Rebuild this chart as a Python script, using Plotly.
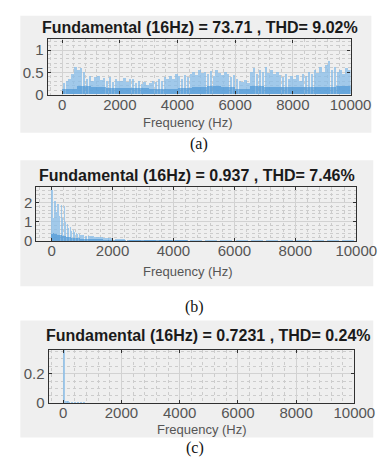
import numpy as np
import plotly.graph_objects as go

# ---------------- data ----------------
titles = ["Fundamental (16Hz) = 73.71 , THD= 9.02%",
          "Fundamental (16Hz) = 0.937 , THD= 7.46%",
          "Fundamental (16Hz) = 0.7231 , THD= 0.24%"]
captions = ["(a)", "(b)", "(c)"]
x_ticks = [0, 2000, 4000, 6000, 8000, 10000]
y_ticks_a = [0, 0.5, 1]
y_ticks_b = [0, 1, 2]
y_ticks_c = [0, 0.2]

# (a) spiky envelope, 100 Hz bins
bin_a = 100
mag_a = [0.25, 0.30, 0.35, 0.45,
         0.60, 0.55, 0.58, 0.50,
         0.35, 0.40, 0.30, 0.38,
         0.40, 0.32, 0.36, 0.30, 0.38, 0.28, 0.35, 0.30,
         0.30, 0.36, 0.28, 0.35, 0.33, 0.25, 0.30, 0.22, 0.28, 0.20,
         0.25, 0.30, 0.28, 0.35, 0.30, 0.38, 0.33, 0.40, 0.35, 0.45,
         0.40, 0.35, 0.42, 0.38, 0.45, 0.50, 0.42, 0.55, 0.48, 0.50,
         0.45, 0.52, 0.40, 0.55, 0.48, 0.42, 0.50, 0.45, 0.38, 0.42,
         0.35, 0.30, 0.28, 0.32, 0.25, 0.50, 0.58, 0.45, 0.55, 0.50,
         0.60, 0.48, 0.55, 0.45, 0.50, 0.42, 0.38, 0.45, 0.35, 0.40,
         0.35, 0.42, 0.30, 0.45, 0.40, 0.50, 0.45, 0.55, 0.48, 0.60,
         0.50, 0.65, 0.75, 0.55, 0.60, 0.50, 0.55, 0.45, 0.58, 0.55]
# (a) dense floor, 500 Hz bins
bin_a_floor = 500
floor_a = [0.12, 0.18, 0.15, 0.14, 0.13, 0.14, 0.12, 0.12, 0.14, 0.16,
           0.18, 0.17, 0.12, 0.18, 0.16, 0.15, 0.16, 0.17, 0.16, 0.18]

# (b)
freq_b = [25, 75, 125, 175, 225, 275, 325, 375, 425, 475, 525, 575, 625, 675,
          725, 775, 825, 875, 925, 975, 1050, 1150, 1250, 1350, 1450, 1550,
          1650, 1750, 1850, 1950, 2250, 2750, 3250, 3750, 4250, 4750, 5250,
          5750, 6250, 6750, 7250, 7750, 8250, 8750, 9250, 9750]
mag_b = [2.65, 1.20, 2.05, 1.50, 1.90, 1.30, 1.85, 1.20, 1.80, 1.00, 0.90,
         0.70, 0.75, 0.50, 0.55, 0.45, 0.40, 0.35, 0.38, 0.30, 0.30, 0.28,
         0.25, 0.25, 0.22, 0.20, 0.20, 0.18, 0.16, 0.15, 0.10, 0.08, 0.06,
         0.05, 0.05, 0.04, 0.04, 0.04, 0.03, 0.03, 0.03, 0.03, 0.03, 0.03,
         0.03, 0.03]
floor_b = [0.35, 0.40, 0.38, 0.35, 0.32, 0.30, 0.30, 0.28, 0.26, 0.25, 0.22,
           0.20, 0.20, 0.18, 0.17, 0.16, 0.15, 0.15, 0.14, 0.13, 0.12, 0.12,
           0.11, 0.10, 0.10, 0.09, 0.09, 0.08, 0.08, 0.07, 0.05, 0.04, 0.03,
           0.03, 0.03, 0.02, 0.02, 0.02, 0.02, 0.02, 0.02, 0.02, 0.02, 0.02,
           0.02, 0.02]

# (c)
freq_c = [16, 60, 110, 160, 210, 300, 400, 500, 600, 700]
mag_c = [0.7231, 0.014, 0.012, 0.013, 0.010, 0.010, 0.008, 0.008, 0.006, 0.005]

# ---------------- layout helpers ----------------
W, H = 391, 472
def px(x): return x / W
def py(y): return 1 - y / H

spike_col = "rgba(135,188,232,0.75)"
floor_col = "rgba(70,148,212,0.65)"

fig = go.Figure()

xa = np.arange(len(mag_a)) * bin_a + bin_a / 2
xf = np.arange(len(floor_a)) * bin_a_floor + bin_a_floor / 2
fig.add_trace(go.Bar(x=xa, y=mag_a, width=bin_a * 0.85, marker_color=spike_col,
                     marker_line_width=0, xaxis="x", yaxis="y"))
fig.add_trace(go.Bar(x=xf, y=floor_a, width=bin_a_floor, marker_color=floor_col,
                     marker_line_width=0, xaxis="x", yaxis="y"))

wb = np.gradient(np.array(freq_b, dtype=float))
fig.add_trace(go.Bar(x=freq_b, y=mag_b, width=wb * 0.8, marker_color=spike_col,
                     marker_line_width=0, xaxis="x2", yaxis="y2"))
fig.add_trace(go.Bar(x=freq_b, y=floor_b, width=wb, marker_color=floor_col,
                     marker_line_width=0, xaxis="x2", yaxis="y2"))

fig.add_trace(go.Bar(x=freq_c, y=mag_c, width=55, marker_color=spike_col,
                     marker_line_width=0, xaxis="x3", yaxis="y3"))

panels = [
    dict(box=(42, 362, 32, 88), yr=[0, 1.24], yt=y_ticks_a, ymin=0.1),
    dict(box=(30, 368, 182, 237), yr=[0, 2.8], yt=y_ticks_b, ymin=0.2),
    dict(box=(43, 366, 348, 402), yr=[0, 0.36], yt=y_ticks_c, ymin=0.05),
]
tickfont = dict(family="Liberation Sans, Arial", size=15, color="#555555")
axcol = "#303030"
for i, p in enumerate(panels):
    l, r, t, b = p["box"]
    sfx = "" if i == 0 else str(i + 1)
    fig.layout["xaxis" + sfx] = dict(
        domain=[px(l), px(r)], anchor="y" + sfx, range=[-500, 10000],
        tickvals=x_ticks, ticktext=[str(v) for v in x_ticks], tickfont=tickfont,
        ticks="inside", ticklen=3, tickcolor=axcol, showline=True, linecolor=axcol,
        linewidth=1.2, mirror="ticks", showgrid=True, gridcolor="#d2d2d2",
        gridwidth=1, zeroline=False, fixedrange=True, ticklabelstandoff=-4,
        minor=dict(dtick=400, tick0=0, showgrid=True, gridcolor="#cccccc",
                   griddash="dot", gridwidth=1),
    )
    fig.layout["yaxis" + sfx] = dict(
        domain=[py(b), py(t)], anchor="x" + sfx, range=p["yr"],
        tickvals=p["yt"], ticktext=[("%g" % v) for v in p["yt"]], tickfont=tickfont,
        ticks="inside", ticklen=3, tickcolor=axcol, showline=True, linecolor=axcol,
        linewidth=1.2, mirror="ticks", showgrid=True, gridcolor="#d2d2d2",
        gridwidth=1, zeroline=False, fixedrange=True,
        minor=dict(dtick=p["ymin"], tick0=0, showgrid=True, gridcolor="#cccccc",
                   griddash="dot", gridwidth=1),
    )

shapes = []
for (l, r, t, b) in [(13, 384, 8, 127), (13, 386, 155, 283), (13, 386, 318, 437)]:
    shapes.append(dict(type="rect", xref="paper", yref="paper", x0=px(l), x1=px(r),
                       y0=py(b), y1=py(t), fillcolor="#efefef", line_width=0,
                       layer="below"))

annotations = []
title_pos = [(203, 20), (200, 170), (212, 333)]
xlab_pos = [(190, 116), (190, 268), (205, 429)]
cap_pos = [(202, 138), (197, 304), (198, 448)]
for i in range(3):
    annotations.append(dict(text="<b>" + titles[i] + "</b>", x=px(title_pos[i][0]),
                            y=py(title_pos[i][1]), xref="paper", yref="paper",
                            showarrow=False, xanchor="center", yanchor="middle",
                            font=dict(family="Liberation Sans, Arial", size=16,
                                      color="#1a1a1a")))
    annotations.append(dict(text="Frequency (Hz)", x=px(xlab_pos[i][0]),
                            y=py(xlab_pos[i][1]), xref="paper", yref="paper",
                            showarrow=False, xanchor="center", yanchor="middle",
                            font=dict(family="Liberation Sans, Arial", size=13,
                                      color="#555555")))
    annotations.append(dict(text=captions[i], x=px(cap_pos[i][0]),
                            y=py(cap_pos[i][1]), xref="paper", yref="paper",
                            showarrow=False, xanchor="center", yanchor="middle",
                            font=dict(family="Liberation Serif, Times New Roman",
                                      size=16, color="#111111")))

fig.update_layout(width=W, height=H, margin=dict(l=0, r=0, t=0, b=0),
                  paper_bgcolor="white", plot_bgcolor="white", showlegend=False,
                  barmode="overlay", bargap=0, shapes=shapes, annotations=annotations)

fig.write_html("out.html")
